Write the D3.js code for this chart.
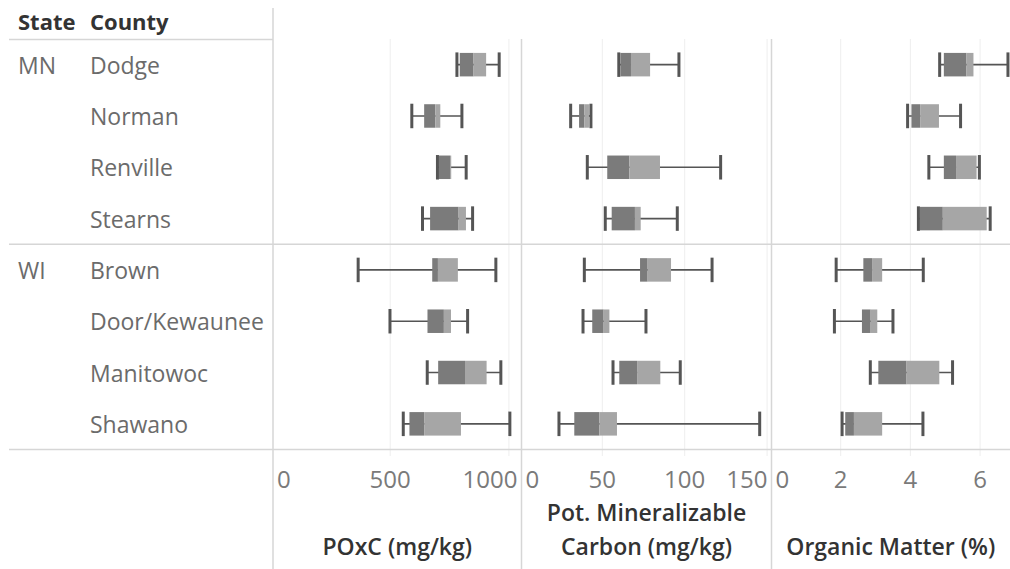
<!DOCTYPE html>
<html>
<head>
<meta charset="utf-8">
<script src="https://cdn.jsdelivr.net/npm/d3@7"></script>
<style>
  html, body { margin: 0; padding: 0; background: #fff; }
  svg { display: block; font-family: "Open Sans", "Noto Sans", sans-serif; }
</style>
</head>
<body>
<svg id="chart" width="1010" height="569"></svg>
<script>
// ---------- data ----------
const states   = ["MN", "MN", "MN", "MN", "WI", "WI", "WI", "WI"];
const counties = ["Dodge", "Norman", "Renville", "Stearns", "Brown", "Door/Kewaunee", "Manitowoc", "Shawano"];

// each row: [min, Q1, median, Q3, max]
const poxc = [
  [781, 793, 851, 904, 959],
  [591, 643, 690, 711, 802],
  [699, 704, 752, 757, 820],
  [636, 668, 788, 819, 847],
  [365, 677, 701, 785, 945],
  [499, 657, 726, 756, 826],
  [656, 702, 815, 906, 966],
  [555, 581, 643, 798, 1004]
];
const pmc = [
  [60, 61, 67.4, 79, 96.5],
  [30.8, 35.9, 39.1, 41.9, 43.1],
  [40.9, 53, 66.4, 85, 121.8],
  [51.8, 55.7, 69.8, 73.3, 95.5],
  [39.1, 72.9, 77.5, 91.7, 116.6],
  [38.3, 43.9, 50.8, 54.3, 76.5],
  [56.5, 60.3, 71.1, 85.2, 97.3],
  [23.7, 33, 48.2, 58.9, 145.5]
];
const om = [
  [4.84, 4.96, 5.61, 5.81, 6.80],
  [3.92, 4.03, 4.28, 4.82, 5.44],
  [4.53, 4.96, 5.31, 5.90, 5.98],
  [4.23, 4.26, 4.93, 6.19, 6.29],
  [1.87, 2.65, 2.90, 3.19, 4.37],
  [1.82, 2.61, 2.86, 3.05, 3.50],
  [2.85, 3.08, 3.89, 4.83, 5.21],
  [2.04, 2.13, 2.38, 3.19, 4.36]
];

const poxcTicks = [0, 500, 1000];
const pmcTicks  = [0, 50, 100, 150];
const omTicks   = [0, 2, 4, 6];

const poxcTitle = ["POxC (mg/kg)"];
const pmcTitle  = ["Pot. Mineralizable", "Carbon (mg/kg)"];
const omTitle   = ["Organic Matter (%)"];

// ---------- layout ----------
const svg = d3.select("#chart");
const W = 1010, H = 569;
const paneTop = 39, paneBottom = 449.5;
const axisGridEnd = 456;

const y = d3.scaleBand().domain(counties).range([paneTop, paneBottom]);

const panels = [
  { data: poxc, ticks: poxcTicks, title: poxcTitle, left: 273, right: 521.5,
    x: d3.scaleLinear().domain([0, 1045]).range([271.5, 519.6]) },
  { data: pmc, ticks: pmcTicks, title: pmcTitle, left: 521.5, right: 771.5,
    x: d3.scaleLinear().domain([0, 152]).range([519.9, 770.4]) },
  { data: om, ticks: omTicks, title: omTitle, left: 771.5, right: 1010,
    x: d3.scaleLinear().domain([0, 6.85]).range([771, 1009.7]) }
];

const C = {
  line: "#d6d6d6",
  grid: "#eeeeee",
  whisker: "#555555",
  lower: "#7b7b7b",
  upper: "#a6a6a6",
  rowText: "#6b6b6b",
  tickText: "#7a7a7a",
  header: "#333333"
};

// gridlines
panels.forEach(p => {
  svg.append("g").selectAll("line")
    .data(p.ticks.filter(t => p.x(t) > p.left + 2 && p.x(t) < p.right - 1))
    .join("line")
    .attr("x1", d => p.x(d)).attr("x2", d => p.x(d))
    .attr("y1", paneTop).attr("y2", axisGridEnd)
    .attr("stroke", C.grid).attr("stroke-width", 1);
});

// separator lines
svg.append("line").attr("x1", 9).attr("x2", 273).attr("y1", paneTop + 0.5).attr("y2", paneTop + 0.5)
  .attr("stroke", C.line).attr("stroke-width", 1.5);
const groupBoundary = y(counties[4]);
svg.append("line").attr("x1", 9).attr("x2", W).attr("y1", groupBoundary).attr("y2", groupBoundary)
  .attr("stroke", C.line).attr("stroke-width", 1.5);
svg.append("line").attr("x1", 9).attr("x2", W).attr("y1", paneBottom).attr("y2", paneBottom)
  .attr("stroke", C.line).attr("stroke-width", 1.5);
svg.append("line").attr("x1", 273).attr("x2", 273).attr("y1", 8).attr("y2", H)
  .attr("stroke", C.line).attr("stroke-width", 1.5);
[521.5, 771.5].forEach(xv => {
  svg.append("line").attr("x1", xv).attr("x2", xv).attr("y1", paneTop).attr("y2", H)
    .attr("stroke", C.line).attr("stroke-width", 1.5);
});

// header
svg.append("text").attr("x", 18).attr("y", 30).text("State")
  .attr("font-size", 22).attr("font-weight", 700).attr("fill", C.header);
svg.append("text").attr("x", 90).attr("y", 30).text("County")
  .attr("font-size", 22).attr("font-weight", 700).attr("fill", C.header);

// row labels
const rows = counties.map((c, i) => ({ county: c, state: states[i], i }));
svg.append("g").selectAll("text")
  .data(rows.filter((r, i) => i === 0 || states[i - 1] !== r.state))
  .join("text")
  .attr("x", 18).attr("y", d => y(d.county) + y.bandwidth() / 2 + 9)
  .attr("font-size", 23).attr("fill", C.rowText).text(d => d.state);
svg.append("g").selectAll("text")
  .data(rows).join("text")
  .attr("x", 90).attr("y", d => y(d.county) + y.bandwidth() / 2 + 9)
  .attr("font-size", 23).attr("fill", C.rowText).text(d => d.county);

// box plots
const boxH = 23.5;
panels.forEach(p => {
  const g = svg.append("g");
  const items = p.data.map((v, i) => ({ county: counties[i], v }));
  const cy = d => y(d.county) + y.bandwidth() / 2;
  g.selectAll(".wl").data(items).join("line")
    .attr("x1", d => p.x(d.v[0])).attr("x2", d => p.x(d.v[4]))
    .attr("y1", cy).attr("y2", cy)
    .attr("stroke", C.whisker).attr("stroke-width", 1.6);
  g.selectAll(".lb").data(items).join("rect")
    .attr("x", d => p.x(d.v[1])).attr("width", d => p.x(d.v[2]) - p.x(d.v[1]))
    .attr("y", d => cy(d) - boxH / 2).attr("height", boxH)
    .attr("fill", C.lower);
  g.selectAll(".ub").data(items).join("rect")
    .attr("x", d => p.x(d.v[2])).attr("width", d => p.x(d.v[3]) - p.x(d.v[2]))
    .attr("y", d => cy(d) - boxH / 2).attr("height", boxH)
    .attr("fill", C.upper);
  [0, 4].forEach(k => {
    g.selectAll(".cap" + k).data(items).join("line")
      .attr("x1", d => p.x(d.v[k])).attr("x2", d => p.x(d.v[k]))
      .attr("y1", d => cy(d) - boxH / 2 - 0.5).attr("y2", d => cy(d) + boxH / 2 + 0.5)
      .attr("stroke", C.whisker).attr("stroke-width", 3);
  });
});

// tick labels and axis titles
panels.forEach(p => {
  const g = svg.append("g");
  p.ticks.forEach(t => {
    const txt = g.append("text").attr("font-size", 24).attr("fill", C.tickText)
      .attr("y", 488).text(d3.format("d")(t));
    const w = txt.node().getComputedTextLength();
    let cx = p.x(t) - w / 2;
    cx = Math.max(p.left + 4, Math.min(p.right - 4 - w, cx));
    txt.attr("x", cx);
  });
  const cxm = (p.left + p.right) / 2;
  const lines = p.title;
  lines.forEach((s, j) => {
    g.append("text").attr("x", cxm).attr("y", 555 - (lines.length - 1 - j) * 34)
      .attr("text-anchor", "middle").attr("font-size", 23).attr("font-weight", 600)
      .attr("fill", C.header).text(s);
  });
});
</script>
</body>
</html>
